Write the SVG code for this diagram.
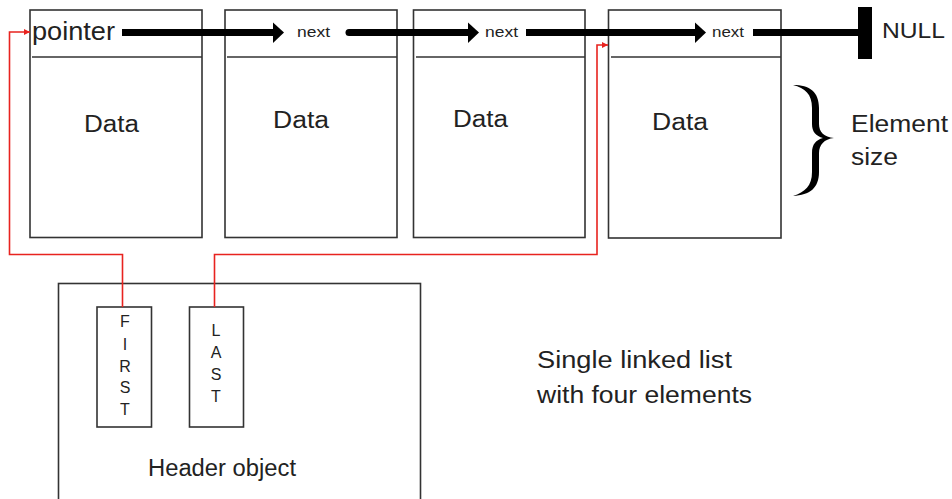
<svg xmlns="http://www.w3.org/2000/svg" width="952" height="499" viewBox="0 0 952 499">
<defs>
<style>
.box{fill:#fff;stroke:#333;stroke-width:1.6}
.div{stroke:#333;stroke-width:1.6}
.t{font-family:"Liberation Sans",Arial,sans-serif;fill:#222}
.big{font-size:23px}
.nx{font-size:15px}
.ltr{font-size:16px;text-anchor:middle}
.thick{stroke:#000;stroke-width:7;fill:none}
.red{stroke:#e8231f;stroke-width:1.6;fill:none}
</style>
<marker id="redhead" markerWidth="6" markerHeight="6" refX="6" refY="3" orient="auto" markerUnits="userSpaceOnUse">
<path d="M0,0 L6,3 L0,6 Z" fill="#e8231f"/>
</marker>
</defs>
<rect width="952" height="499" fill="#fff"/>

<g id="element1">
<rect class="box" x="30" y="10" width="172" height="227.5"/>
<line class="div" x1="32" y1="57" x2="202" y2="57"/>
<text class="t" x="32" y="40" font-size="25" textLength="83" lengthAdjust="spacingAndGlyphs">pointer</text>
<text class="t big" x="84" y="132" textLength="55" lengthAdjust="spacingAndGlyphs">Data</text>
</g>
<g id="element2">
<rect class="box" x="225" y="10" width="172" height="227.5"/>
<line class="div" x1="227" y1="57" x2="397" y2="57"/>
<text class="t nx" x="297" y="37" textLength="33" lengthAdjust="spacingAndGlyphs">next</text>
<text class="t big" x="273" y="128" textLength="56" lengthAdjust="spacingAndGlyphs">Data</text>
</g>
<g id="element3">
<rect class="box" x="413.5" y="10" width="171.5" height="227.5"/>
<line class="div" x1="416" y1="57" x2="585" y2="57"/>
<text class="t nx" x="485" y="37" textLength="33" lengthAdjust="spacingAndGlyphs">next</text>
<text class="t big" x="453" y="127" textLength="55" lengthAdjust="spacingAndGlyphs">Data</text>
</g>
<g id="element4">
<rect class="box" x="608.5" y="10" width="172.5" height="228"/>
<line class="div" x1="611" y1="57" x2="781" y2="57"/>
<text class="t nx" x="712" y="37" textLength="32" lengthAdjust="spacingAndGlyphs">next</text>
<text class="t big" x="652" y="130" textLength="56" lengthAdjust="spacingAndGlyphs">Data</text>
</g>

<g id="null">
<rect x="858" y="7" width="14" height="52" fill="#000"/>
<text class="t" x="882" y="38" font-size="22" textLength="63" lengthAdjust="spacingAndGlyphs">NULL</text>
</g>

<g id="element-size">
<path d="M793,85 C810,85 819,92 819,108 L819,124 C819,132 824,137 834,138 C824,139 819,145 819,153 L819,172 C819,188 810,195 793,196 C805,192 812,186 812,172 L812,153 C812,144 816,140 823,138 C816,136 812,132 812,124 L812,108 C812,94 805,88 793,85 Z" fill="#000"/>
<text class="t big" x="851" y="132" textLength="97" lengthAdjust="spacingAndGlyphs">Element</text>
<text class="t big" x="851" y="165" textLength="47" lengthAdjust="spacingAndGlyphs">size</text>
</g>

<g id="header">
<rect class="box" x="58.5" y="283.5" width="362" height="230"/>
<rect class="box" x="97" y="307" width="54.5" height="120"/>
<rect class="box" x="189.5" y="307" width="54" height="120"/>
<text class="t ltr" x="125" y="327">F</text>
<text class="t ltr" x="125" y="350">I</text>
<text class="t ltr" x="125" y="372">R</text>
<text class="t ltr" x="125" y="393">S</text>
<text class="t ltr" x="125" y="415">T</text>
<text class="t ltr" x="216" y="336">L</text>
<text class="t ltr" x="216" y="358">A</text>
<text class="t ltr" x="216" y="380">S</text>
<text class="t ltr" x="216" y="402">T</text>
<text class="t big" x="148" y="476" textLength="148" lengthAdjust="spacingAndGlyphs">Header object</text>
</g>

<g id="caption">
<text class="t big" x="537" y="368" textLength="195" lengthAdjust="spacingAndGlyphs">Single linked list</text>
<text class="t big" x="537" y="403" textLength="215" lengthAdjust="spacingAndGlyphs">with four elements</text>
</g>

<g id="connectors">
<line class="thick" x1="122" y1="32.5" x2="274" y2="32.5"/>
<path d="M273,22.5 L284,32.5 L273,43 Z" fill="#000"/>
<line class="thick" x1="349" y1="32.5" x2="469" y2="32.5" stroke-linecap="round"/>
<path d="M468,22.5 L479,32.5 L468,43 Z" fill="#000"/>
<line class="thick" x1="526" y1="32.5" x2="696" y2="32.5"/>
<path d="M695,22.5 L706,32.5 L695,43 Z" fill="#000"/>
<line class="thick" x1="753" y1="32.5" x2="860" y2="32.5"/>
<polyline class="red" points="122.5,307 122.5,254.5 9.5,254.5 9.5,32 30,32" marker-end="url(#redhead)"/>
<polyline class="red" points="214.5,307 214.5,254.5 597,254.5 597,45 608,45" marker-end="url(#redhead)"/>
</g>
</svg>
